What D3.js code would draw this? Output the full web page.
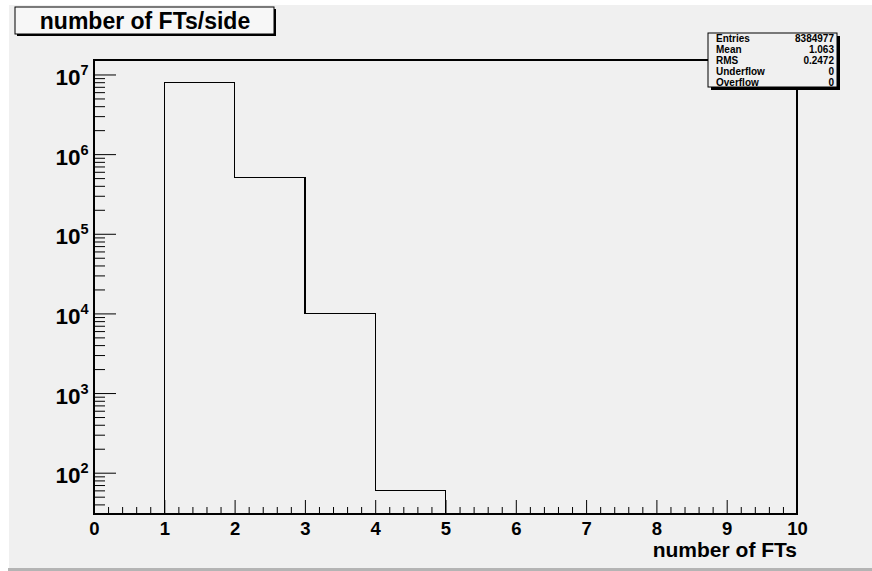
<!DOCTYPE html>
<html lang="en">
<head>
<meta charset="UTF-8">
<title>number of FTs/side</title>
<style>
    body { margin: 0; background: #ffffff; }
    svg { display: block; }
    text { font-family: "Liberation Sans", Arial, Helvetica, sans-serif; font-weight: bold; fill: #000; }
</style>
</head>
<body>
<script src="https://cdnjs.cloudflare.com/ajax/libs/d3/7.8.5/d3.min.js"></script>
<script>
    const width = 872;
    const height = 571;

    // histogram contents (bin low edges, counts per bin)
    const binEdges = [0, 1, 2, 3, 4, 5, 6, 7, 8, 9, 10];
    const binCounts = [0, 7866800, 508000, 10000, 60, 0, 0, 0, 0, 0];

    const xTickValues = [0, 1, 2, 3, 4, 5, 6, 7, 8, 9, 10];
    const yDecades = [2, 3, 4, 5, 6, 7];

    const statsLabels = ['Entries', 'Mean', 'RMS', 'Underflow', 'Overflow'];
    const statsValues = ['8384977', '1.063', '0.2472', '0', '0'];

    const titleText = 'number of FTs/side';
    const xTitle = 'number of FTs';

    const FRAME = { left: 94, right: 797, top: 60, bottom: 514 };
    const COLORS = {
        pad: '#f0f0f0',
        titleFill: '#f7f7f7',
        line: '#000000',
        bottomBar: '#b4b4b4'
    };

    const svg = d3.select('body').append('svg')
        .attr('width', width)
        .attr('height', height);

    // canvas background
    svg.append('rect')
        .attr('x', 9).attr('y', 5)
        .attr('width', width - 9).attr('height', 563)
        .attr('fill', COLORS.pad);
    svg.append('rect')
        .attr('x', 8).attr('y', 568)
        .attr('width', width - 8).attr('height', 3)
        .attr('fill', COLORS.bottomBar);

    const x = d3.scaleLinear().domain([0, 10]).range([FRAME.left, FRAME.right]);
    const y = d3.scaleLog().domain([30.3, 1.52e7]).range([FRAME.bottom, FRAME.top]);

    // x axis: major + minor ticks pointing inward
    const xMinor = d3.range(0, 10.001, 0.2).filter(v => Math.abs(v - Math.round(v)) > 1e-6);
    svg.append('g')
        .attr('transform', `translate(0,${FRAME.bottom})`)
        .call(d3.axisBottom(x).tickValues(xMinor).tickSize(-7).tickFormat(''))
        .call(g => g.select('.domain').remove());
    const xAxis = svg.append('g')
        .attr('transform', `translate(0,${FRAME.bottom})`)
        .call(d3.axisBottom(x).tickValues(xTickValues).tickSize(-14).tickPadding(0).tickFormat(d3.format('d')))
        .call(g => g.select('.domain').remove());
    xAxis.selectAll('text')
        .attr('y', 21)
        .attr('dy', 0)
        .style('font-size', '18.5px')
        .style('font-family', '"Liberation Sans", Arial, sans-serif')
        .style('font-weight', 'bold');

    // y axis: log, decade ticks + 2..9 minor ticks
    const yMinor = [];
    for (let e = 1; e <= 7; e++) {
        for (let m = 2; m <= 9; m++) {
            const v = m * Math.pow(10, e);
            if (v >= y.domain()[0] && v <= y.domain()[1]) yMinor.push(v);
        }
    }
    svg.append('g')
        .attr('transform', `translate(${FRAME.left},0)`)
        .call(d3.axisLeft(y).tickValues(yMinor).tickSize(-11).tickFormat(''))
        .call(g => g.select('.domain').remove());
    svg.append('g')
        .attr('transform', `translate(${FRAME.left},0)`)
        .call(d3.axisLeft(y).tickValues(yDecades.map(e => Math.pow(10, e))).tickSize(-22).tickFormat(''))
        .call(g => g.select('.domain').remove());
    svg.selectAll('.tick line').attr('stroke', COLORS.line);

    const yLabels = svg.append('g').classed('yLabels', true)
        .selectAll('text')
        .data(yDecades)
        .join('text')
        .attr('x', 88.5)
        .attr('y', d => y(Math.pow(10, d)) + 10.5)
        .attr('text-anchor', 'end');
    yLabels.append('tspan').style('font-size', '22.5px').text('10');
    yLabels.append('tspan').style('font-size', '14.5px').attr('dy', -10).text(d => d);

    // histogram outline
    const pts = [];
    let started = false;
    binCounts.forEach((c, i) => {
        if (c > 0) {
            if (!started) { pts.push([x(binEdges[i]), FRAME.bottom]); started = true; }
            pts.push([x(binEdges[i]), y(c)]);
            pts.push([x(binEdges[i + 1]), y(c)]);
        } else if (started && binCounts[i - 1] > 0) {
            pts.push([x(binEdges[i]), FRAME.bottom]);
        }
    });
    svg.append('path')
        .attr('d', d3.line()(pts))
        .attr('fill', 'none')
        .attr('stroke', COLORS.line)
        .attr('stroke-width', 1.2)
        .attr('shape-rendering', 'crispEdges');

    // frame
    svg.append('rect')
        .attr('x', FRAME.left).attr('y', FRAME.top)
        .attr('width', FRAME.right - FRAME.left)
        .attr('height', FRAME.bottom - FRAME.top)
        .attr('fill', 'none')
        .attr('stroke', COLORS.line)
        .attr('stroke-width', 1.2)
        .attr('shape-rendering', 'crispEdges');

    // axis title
    svg.append('text')
        .attr('x', FRAME.right)
        .attr('y', 557)
        .attr('text-anchor', 'end')
        .style('font-size', '21px')
        .text(xTitle);

    // title box
    const tb = { x: 15, y: 7, w: 259, h: 27 };
    svg.append('rect')
        .attr('x', tb.x + 2).attr('y', tb.y + 2)
        .attr('width', tb.w).attr('height', tb.h)
        .attr('fill', COLORS.line);
    svg.append('rect')
        .attr('x', tb.x).attr('y', tb.y)
        .attr('width', tb.w).attr('height', tb.h)
        .attr('fill', COLORS.titleFill)
        .attr('stroke', COLORS.line)
        .attr('stroke-width', 1);
    svg.append('text')
        .attr('x', 145)
        .attr('y', 29)
        .attr('text-anchor', 'middle')
        .style('font-size', '23px')
        .text(titleText);

    // stats box
    const sb = { x: 708, y: 33, w: 129, h: 54 };
    svg.append('rect')
        .attr('x', sb.x + 3).attr('y', sb.y + 3)
        .attr('width', sb.w).attr('height', sb.h)
        .attr('fill', COLORS.line);
    svg.append('rect')
        .attr('x', sb.x).attr('y', sb.y)
        .attr('width', sb.w).attr('height', sb.h)
        .attr('fill', COLORS.pad)
        .attr('stroke', COLORS.line)
        .attr('stroke-width', 1);
    const rows = svg.append('g').classed('stats', true)
        .selectAll('g')
        .data(statsLabels)
        .join('g')
        .attr('transform', (d, i) => `translate(0,${42 + i * 11.1})`);
    rows.append('text')
        .attr('x', 716)
        .style('font-size', '10px')
        .text(d => d);
    rows.append('text')
        .attr('x', 834)
        .attr('text-anchor', 'end')
        .style('font-size', '10px')
        .text((d, i) => statsValues[i]);
</script>
</body>
</html>
